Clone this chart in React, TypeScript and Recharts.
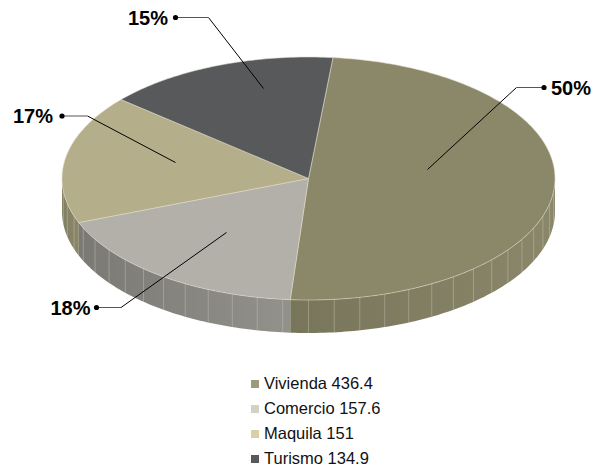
import { PieChart, Pie, Cell, Legend } from 'recharts';

const CATEGORIES = ['Vivienda', 'Comercio', 'Maquila', 'Turismo'];
const VALUES = [436.4, 157.6, 151, 134.9];

const TOP_COLORS = ['#8b8769', '#b2b0a8', '#b5ae8b', '#58595b'];
const SIDE_DARK = ['#77755a', '#7a7974', '#837f62', '#4a4b4d'];
const SIDE_LIGHT = ['#8b876b', '#92918b', '#8a866a', '#5a5b5d'];
const LEGEND_COLORS = ['#9d9979', '#d3d0c6', '#d8d0a8', '#58595b'];

const data = CATEGORIES.map((name, i) => ({ name, value: VALUES[i] }));

const W = 597;
const H = 472;
const CX = 308.5;
const CY = 178.5;
const RX = 246.5;
const TILT = 121.5 / 246.5;
const DEPTH = 33;
const RAD = Math.PI / 180;
const FONT = '"Liberation Sans", Arial, sans-serif';

// leader line layout, offsets from pie centre
const LABEL_LAYOUT = [
  { ax: 119, ay: -9, ex: 208, ey: -91, dot: 235.5, tx: 242.5, anchor: 'start' },
  { ax: -82, ay: 54, ex: -187.5, ey: 129, dot: -212, tx: -218, anchor: 'end' },
  { ax: -133, ay: -16, ex: -221, ey: -62.5, dot: -246.5, tx: -255.5, anchor: 'end' },
  { ax: -45, ay: -90, ex: -100, ey: -161, dot: -133, tx: -140.5, anchor: 'end' },
];

const pt = (cx: number, cy: number, rx: number, a: number, dy = 0) => {
  const ry = rx * TILT;
  return [cx + rx * Math.cos(a * RAD), cy - ry * Math.sin(a * RAD) + dy];
};

const arcPoints = (cx: number, cy: number, rx: number, a1: number, a2: number, dy = 0) => {
  const n = Math.max(2, Math.ceil(Math.abs(a2 - a1)));
  const out: string[] = [];
  for (let i = 0; i <= n; i++) {
    const a = a1 + ((a2 - a1) * i) / n;
    const [x, y] = pt(cx, cy, rx, a, dy);
    out.push(`${x.toFixed(2)},${y.toFixed(2)}`);
  }
  return out;
};

function TopSlice(props: any) {
  const { cx, cy, outerRadius, startAngle, endAngle, fill } = props;
  const pts = arcPoints(cx, cy, outerRadius, startAngle, endAngle);
  const d = `M${cx},${cy} L${pts.join(' L')} Z`;
  return <path d={d} fill={fill} stroke="#dedbc9" strokeWidth={0.7} strokeOpacity={0.8} />;
}

function SideSlice(props: any) {
  const { cx, cy, outerRadius, startAngle, endAngle, fill } = props;
  const lo = Math.min(startAngle, endAngle);
  const hi = Math.max(startAngle, endAngle);
  const parts: any[] = [];
  for (let k = -2; k <= 2; k++) {
    const s = Math.max(lo, 180 + 360 * k);
    const e = Math.min(hi, 360 + 360 * k);
    if (e <= s) continue;
    const top = arcPoints(cx, cy, outerRadius, s, e);
    const bottom = arcPoints(cx, cy, outerRadius, e, s, DEPTH);
    const d = `M${top.join(' L')} L${bottom.join(' L')} Z`;
    parts.push(<path key={`s${k}`} d={d} fill={fill} stroke="none" />);
    for (let a = Math.ceil(s / 6) * 6; a < e; a += 6) {
      if (a - s < 2) continue;
      const [x1, y1] = pt(cx, cy, outerRadius, a);
      const [, y2] = pt(cx, cy, outerRadius, a, DEPTH);
      parts.push(
        <line key={`l${k}-${a}`} x1={x1} y1={y1} x2={x1} y2={y2} stroke="#cfcdbd" strokeOpacity={0.5} strokeWidth={0.8} />
      );
    }
  }
  return <g>{parts}</g>;
}

function renderLabel(props: any) {
  const { cx, cy, percent, name, index } = props;
  const i = CATEGORIES.indexOf(name) >= 0 ? CATEGORIES.indexOf(name) : index;
  const l = LABEL_LAYOUT[i];
  if (!l) return null;
  const ax = cx + l.ax;
  const ay = cy + l.ay;
  const ex = cx + l.ex;
  const ey = cy + l.ey;
  const dx = cx + l.dot;
  return (
    <g>
      <line x1={ax} y1={ay} x2={ex} y2={ey} stroke="#000" strokeWidth={1} />
      <line x1={ex} y1={ey} x2={dx} y2={ey} stroke="#555" strokeWidth={1} />
      <circle cx={dx} cy={ey} r={2.6} fill="#000" />
      <text x={cx + l.tx} y={ey + 7} textAnchor={l.anchor} fontFamily={FONT} fontWeight="bold" fontSize={20} fill="#000">
        {`${Math.round(percent * 100)}%`}
      </text>
    </g>
  );
}

const renderLegend = () => (
  <ul style={{ listStyle: 'none', margin: 0, padding: 0, fontFamily: FONT, fontSize: 16.5, color: '#111' }}>
    {CATEGORIES.map((c, i) => (
      <li key={c} style={{ display: 'flex', alignItems: 'center', height: 25 }}>
        <span style={{ display: 'inline-block', width: 8, height: 8, background: LEGEND_COLORS[i], marginRight: 5 }} />
        {`${c} ${VALUES[i]}`}
      </li>
    ))}
  </ul>
);

export default function App() {
  return (
    <div style={{ width: W, height: H, background: '#fff' }}>
      <style>{'body{margin:0}'}</style>
      <PieChart width={W} height={H} margin={{ top: 0, right: 0, bottom: 0, left: 0 }}>
        <defs>
          {CATEGORIES.map((c, i) => (
            <linearGradient key={c} id={`side${i}`} x1="0" y1="0" x2="1" y2="0">
              <stop offset="0%" stopColor={SIDE_DARK[i]} />
              <stop offset="100%" stopColor={SIDE_LIGHT[i]} />
            </linearGradient>
          ))}
        </defs>
        <Pie
          data={data}
          dataKey="value"
          nameKey="name"
          cx={CX}
          cy={CY}
          outerRadius={RX}
          startAngle={84.3}
          endAngle={-275.7}
          stroke="none"
          legendType="none"
          shape={SideSlice}
          inactiveShape={SideSlice}
          activeShape={SideSlice}
          isAnimationActive={false}
        >
          {data.map((d, i) => (
            <Cell key={d.name} fill={`url(#side${i})`} />
          ))}
        </Pie>
        <Pie
          data={data}
          dataKey="value"
          nameKey="name"
          cx={CX}
          cy={CY}
          outerRadius={RX}
          startAngle={84.3}
          endAngle={-275.7}
          stroke="none"
          shape={TopSlice}
          inactiveShape={TopSlice}
          activeShape={TopSlice}
          label={renderLabel}
          labelLine={false}
          isAnimationActive={false}
        >
          {data.map((d, i) => (
            <Cell key={d.name} fill={TOP_COLORS[i]} />
          ))}
        </Pie>
        <Legend
          layout="vertical"
          verticalAlign="bottom"
          align="center"
          content={renderLegend}
          wrapperStyle={{ position: 'absolute', left: 251, top: 371, width: 220, bottom: 'auto' }}
        />
      </PieChart>
    </div>
  );
}
